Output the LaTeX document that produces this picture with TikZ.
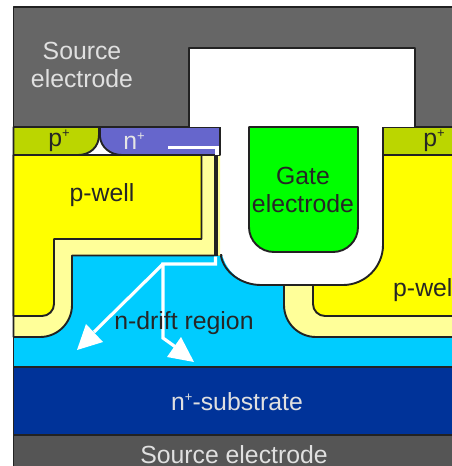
\documentclass[tikz,border=0pt]{standalone}
\usepackage{fontspec}
\setmainfont{Liberation Sans}
\definecolor{gatecol}{HTML}{00FF00}
\definecolor{srccol}{HTML}{666666}
\definecolor{botcol}{HTML}{555555}
\definecolor{subcol}{HTML}{003399}
\definecolor{driftcol}{HTML}{00CCFF}
\definecolor{wellcol}{HTML}{FFFF00}
\definecolor{halocol}{HTML}{FFFF99}
\definecolor{pplus}{HTML}{BBD600}
\definecolor{nplus}{HTML}{6666CC}
\definecolor{edge}{HTML}{222222}
\tikzset{
 part/.style={draw=edge,line width=1.9pt,line join=round},
 lab/.style={inner sep=0pt,align=center,font=\fontsize{24.8}{28}\selectfont},
 flow/.style={draw=white,line width=3.2pt,line join=miter},
 head/.style={fill=white,draw=none}
}
\newcommand{\supplus}{\raisebox{9pt}{\fontsize{13}{13}\selectfont +}}
\begin{document}
\begin{tikzpicture}[x=1pt,y=-1pt]
\useasboundingbox (0,0) rectangle (452,466);
\fill[white] (0,0) rectangle (452,466);
\begin{scope}
\clip (0,0) rectangle (452,466);
% drift
\path[part,fill=driftcol] (13.5,255) rectangle (460,367);
% halos
\path[part,draw=none,fill=halocol] (13.5,155) -- (220,155) -- (220,255.5) -- (72,255.5) -- (72,305) .. controls (72,322.7) and (57.7,337) .. (40,337) -- (13.5,337) -- cycle;
\draw[part] (214,255.5) -- (72,255.5) -- (72,305) .. controls (72,322.7) and (57.7,337) .. (40,337) -- (13.5,337) -- (13.5,155);
\path[part,fill=wellcol] (13.5,155) -- (201.5,155) -- (201.5,239) -- (54,239) -- (54,304) .. controls (54,310.6) and (48.6,316) .. (42,316) -- (13.5,316) -- cycle;
\path[part,fill=halocol] (284,270) -- (284,305) .. controls (284,322.7) and (298.3,337) .. (316,337) -- (460,337) -- (460,270) -- cycle;
\path[part,fill=wellcol] (313,155) -- (313,304) .. controls (313,310.6) and (318.4,316) .. (325,316) -- (460,316) -- (460,155) -- cycle;
% channel bar
\path[fill=edge] (213.5,155) rectangle (217.5,256);
% top electrode
\path[part,fill=srccol] (13.5,7) -- (460,7) -- (460,127) -- (415,127) -- (415,48) -- (189,48) -- (189,127) -- (13.5,127) -- cycle;
% implants
\path[part,fill=pplus] (13.5,127) -- (99,127) -- (99,135) .. controls (99,147) and (90,155) .. (78,155) -- (13.5,155) -- cycle;
\path[part,fill=nplus] (100,127) -- (220,127) -- (220,155) -- (122,155) .. controls (110,155) and (101,147) .. (100,137) -- cycle;
\path[part,fill=pplus] (383,127) -- (460,127) -- (460,155) -- (383,155) -- cycle;
% trench
\path[fill=white] (190,49) rectangle (414,127);
\path[fill=white] (221,127) -- (221,245) .. controls (221,267) and (239,285) .. (261,285) -- (343,285) .. controls (365,285) and (383,267) .. (383,245) -- (383,127) -- cycle;
\draw[part] (221,256) .. controls (224,272) and (241,285) .. (261,285) -- (343,285) .. controls (365,285) and (383,267) .. (383,245) -- (383,127);
% gate
\path[part,fill=gatecol] (249,127) -- (358,127) -- (358,227) .. controls (358,240.8) and (346.8,252) .. (333,252) -- (274,252) .. controls (260.2,252) and (249,240.8) .. (249,227) -- cycle;
% substrate and bottom electrode
\path[part,fill=subcol] (13.5,367) rectangle (460,435);
\path[part,fill=botcol] (13.5,435) rectangle (460,475);
% electron flow
\coordinate (fa) at (168,147.5);
\coordinate (fb) at (217,147.5);
\coordinate (fc) at (217,155);
\coordinate (ga) at (215.5,256.5);
\coordinate (gb) at (215.5,264);
\coordinate (gc) at (163,264);
\coordinate (gd) at (163,338);
\coordinate (ge) at (177,348);
\coordinate (gf) at (94,332);
\draw[flow] (fa) -- (fb) -- (fc);
\draw[flow] (ga) -- (gb) -- (gc) -- (gd) -- (ge);
\draw[flow] (gc) -- (gf);
\path[head] (77,350) -- (103,342) -- (86,324) -- cycle;
\path[head] (194,362) -- (167,357) -- (181,337) -- cycle;
\end{scope}
% labels
\node[lab,text=white!88!black] (srctop) at (82,65) {Source\\electrode};
\node[lab,text=white!88!black] (srcbot) at (234,454.5) {Source electrode};
\node[lab,text=white!88!black] (subs) at (237,402) {n\supplus-substrate};
\node[lab,text=black!85] (gatel) at (303,190) {Gate\\electrode};
\node[lab,text=black!85] (pwl) at (102,195) {p-well};
\node[lab,text=black!85,anchor=west] (pwr) at (393,290) {p-well};
\node[lab,text=black!85] (drift) at (184,323) {n-drift region};
\node[lab,text=black!85] (pl) at (59,141) {p\supplus};
\node[lab,text=white!90!black] (nl) at (134,141) {n\supplus};
\node[lab,text=black!85] (pr) at (434,141) {p\supplus};
\end{tikzpicture}
\end{document}
